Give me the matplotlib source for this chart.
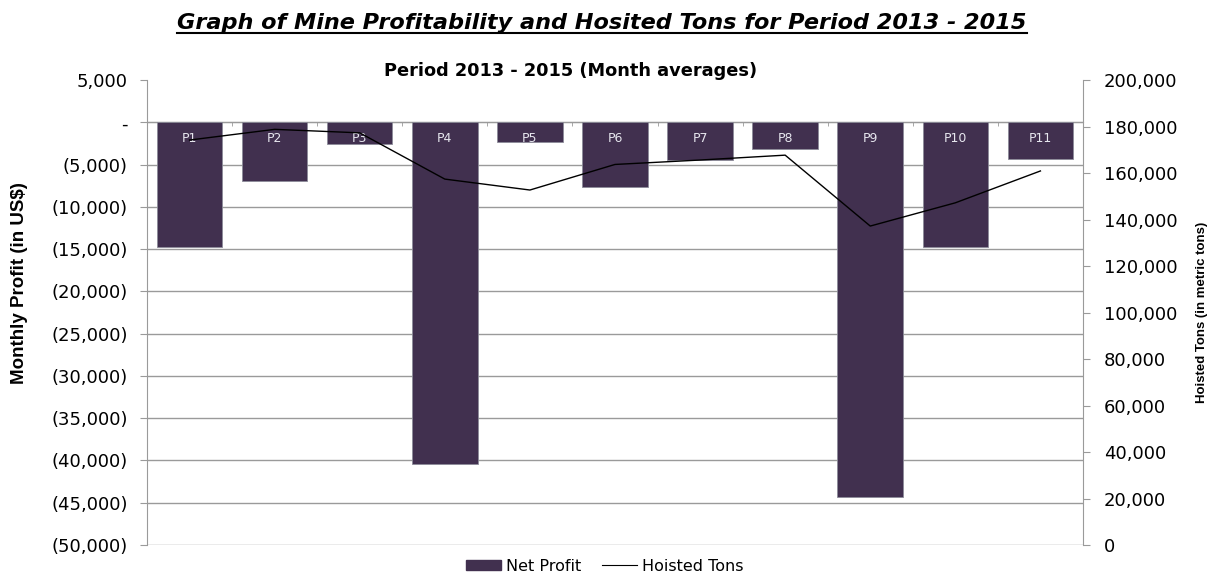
import numpy as np
import matplotlib.pyplot as plt
from matplotlib.ticker import FuncFormatter, FixedLocator
from matplotlib.lines import Line2D
from matplotlib.patches import Patch

periods = ['P1', 'P2', 'P3', 'P4', 'P5', 'P6', 'P7', 'P8', 'P9', 'P10', 'P11']
net_profit = [-14800, -6900, -2600, -40400, -2300, -7700, -4400, -3100, -44300, -14800, -4300]
hoisted_tons = [174200, 178800, 177300, 157400, 152700, 163700, 165600, 167700, 137200, 147200, 160900]

bar_color = '#41304f'
grid_color = '#9a9a9a'
tick_font = ['DejaVu Sans']
label_font = ['Liberation Sans', 'DejaVu Sans']

fig = plt.figure(figsize=(12.16, 5.76), dpi=100)
ax = fig.add_axes([0.1209, 0.0538, 0.7697, 0.8072])
x = np.arange(len(periods))

ax.bar(x, net_profit, width=0.77, color=bar_color, edgecolor='#8c8c99', linewidth=0.6, zorder=2)
for xi, name in zip(x, periods):
    ax.text(xi, -1900, name, ha='center', va='center', color='#e6e6ee', fontsize=9, family=tick_font, zorder=5)

ax.set_xlim(-0.5, len(periods) - 0.5)
ax.set_ylim(-50000, 5000)
ax.set_yticks(np.arange(-50000, 5001, 5000))


def profit_fmt(v, pos):
    if abs(v) < 1:
        return '-'
    if v < 0:
        return '({:,.0f})'.format(-v)
    return '{:,.0f}'.format(v)


ax.yaxis.set_major_formatter(FuncFormatter(profit_fmt))
ax.yaxis.grid(True, color=grid_color, linewidth=1.0, zorder=0)
ax.set_axisbelow(True)
ax.get_ygridlines()[-1].set_visible(False)

ax.spines['top'].set_visible(False)
ax.spines['right'].set_visible(False)
ax.spines['left'].set_color(grid_color)
ax.spines['bottom'].set_position(('data', 0))
ax.spines['bottom'].set_color(grid_color)
ax.spines['bottom'].set_zorder(1)
ax.set_xticks([])
ax.xaxis.set_minor_locator(FixedLocator(np.arange(-0.5, len(periods), 1.0)))
ax.tick_params(axis='x', which='minor', length=3, color=grid_color, direction='out')
ax.tick_params(axis='y', length=5, color=grid_color, labelsize=13, pad=9)
for lbl in ax.get_yticklabels():
    lbl.set_family(tick_font)

ax2 = ax.twinx()
ax2.plot(x, hoisted_tons, color='black', linewidth=1.0, zorder=3)
ax2.set_ylim(0, 200000)
ax2.set_yticks(np.arange(0, 200001, 20000))
ax2.yaxis.set_major_formatter(FuncFormatter(lambda v, p: '{:,.0f}'.format(v)))
for s in ['top', 'left', 'bottom']:
    ax2.spines[s].set_visible(False)
ax2.spines['right'].set_color(grid_color)
ax2.tick_params(axis='y', length=5, color=grid_color, labelsize=13, pad=10)
for lbl in ax2.get_yticklabels():
    lbl.set_family(tick_font)

# axis titles placed in figure coordinates
fig.text(20 / 1216, 1 - 283 / 576, 'Monthly Profit (in US$)', rotation=90, ha='center', va='center',
         fontsize=13.5, fontweight='bold', family=label_font)
fig.text(1202 / 1216, 1 - 312 / 576, 'Hoisted Tons (in metric tons)', rotation=90, ha='center', va='center',
         fontsize=9.5, fontweight='bold', family=label_font)

title = fig.text(0.495, 0.960, 'Graph of Mine Profitability and Hosited Tons for Period 2013 - 2015',
                 ha='center', va='center', fontsize=16.1, fontweight='bold', style='italic', family=tick_font)
fig.text(0.469, 0.877, 'Period 2013 - 2015 (Month averages)', ha='center', va='center',
         fontsize=12.8, fontweight='bold', family=tick_font)

# underline the title across its drawn width
fig.canvas.draw()
bb = title.get_window_extent().transformed(fig.transFigure.inverted())
fig.add_artist(Line2D([bb.x0, bb.x1], [0.942, 0.942], color='black', linewidth=1.5))

handles = [Patch(facecolor=bar_color, edgecolor=bar_color),
           Line2D([0], [0], color='black', linewidth=0.8)]
fig.legend(handles, ['Net Profit', 'Hoisted Tons'], loc='center', bbox_to_anchor=(0.497, 0.017),
           ncol=2, frameon=False, prop={'family': tick_font, 'size': 11.5},
           handlelength=2.2, handleheight=0.6, columnspacing=1.3, handletextpad=0.3)

fig.savefig('out.png', dpi=100)
